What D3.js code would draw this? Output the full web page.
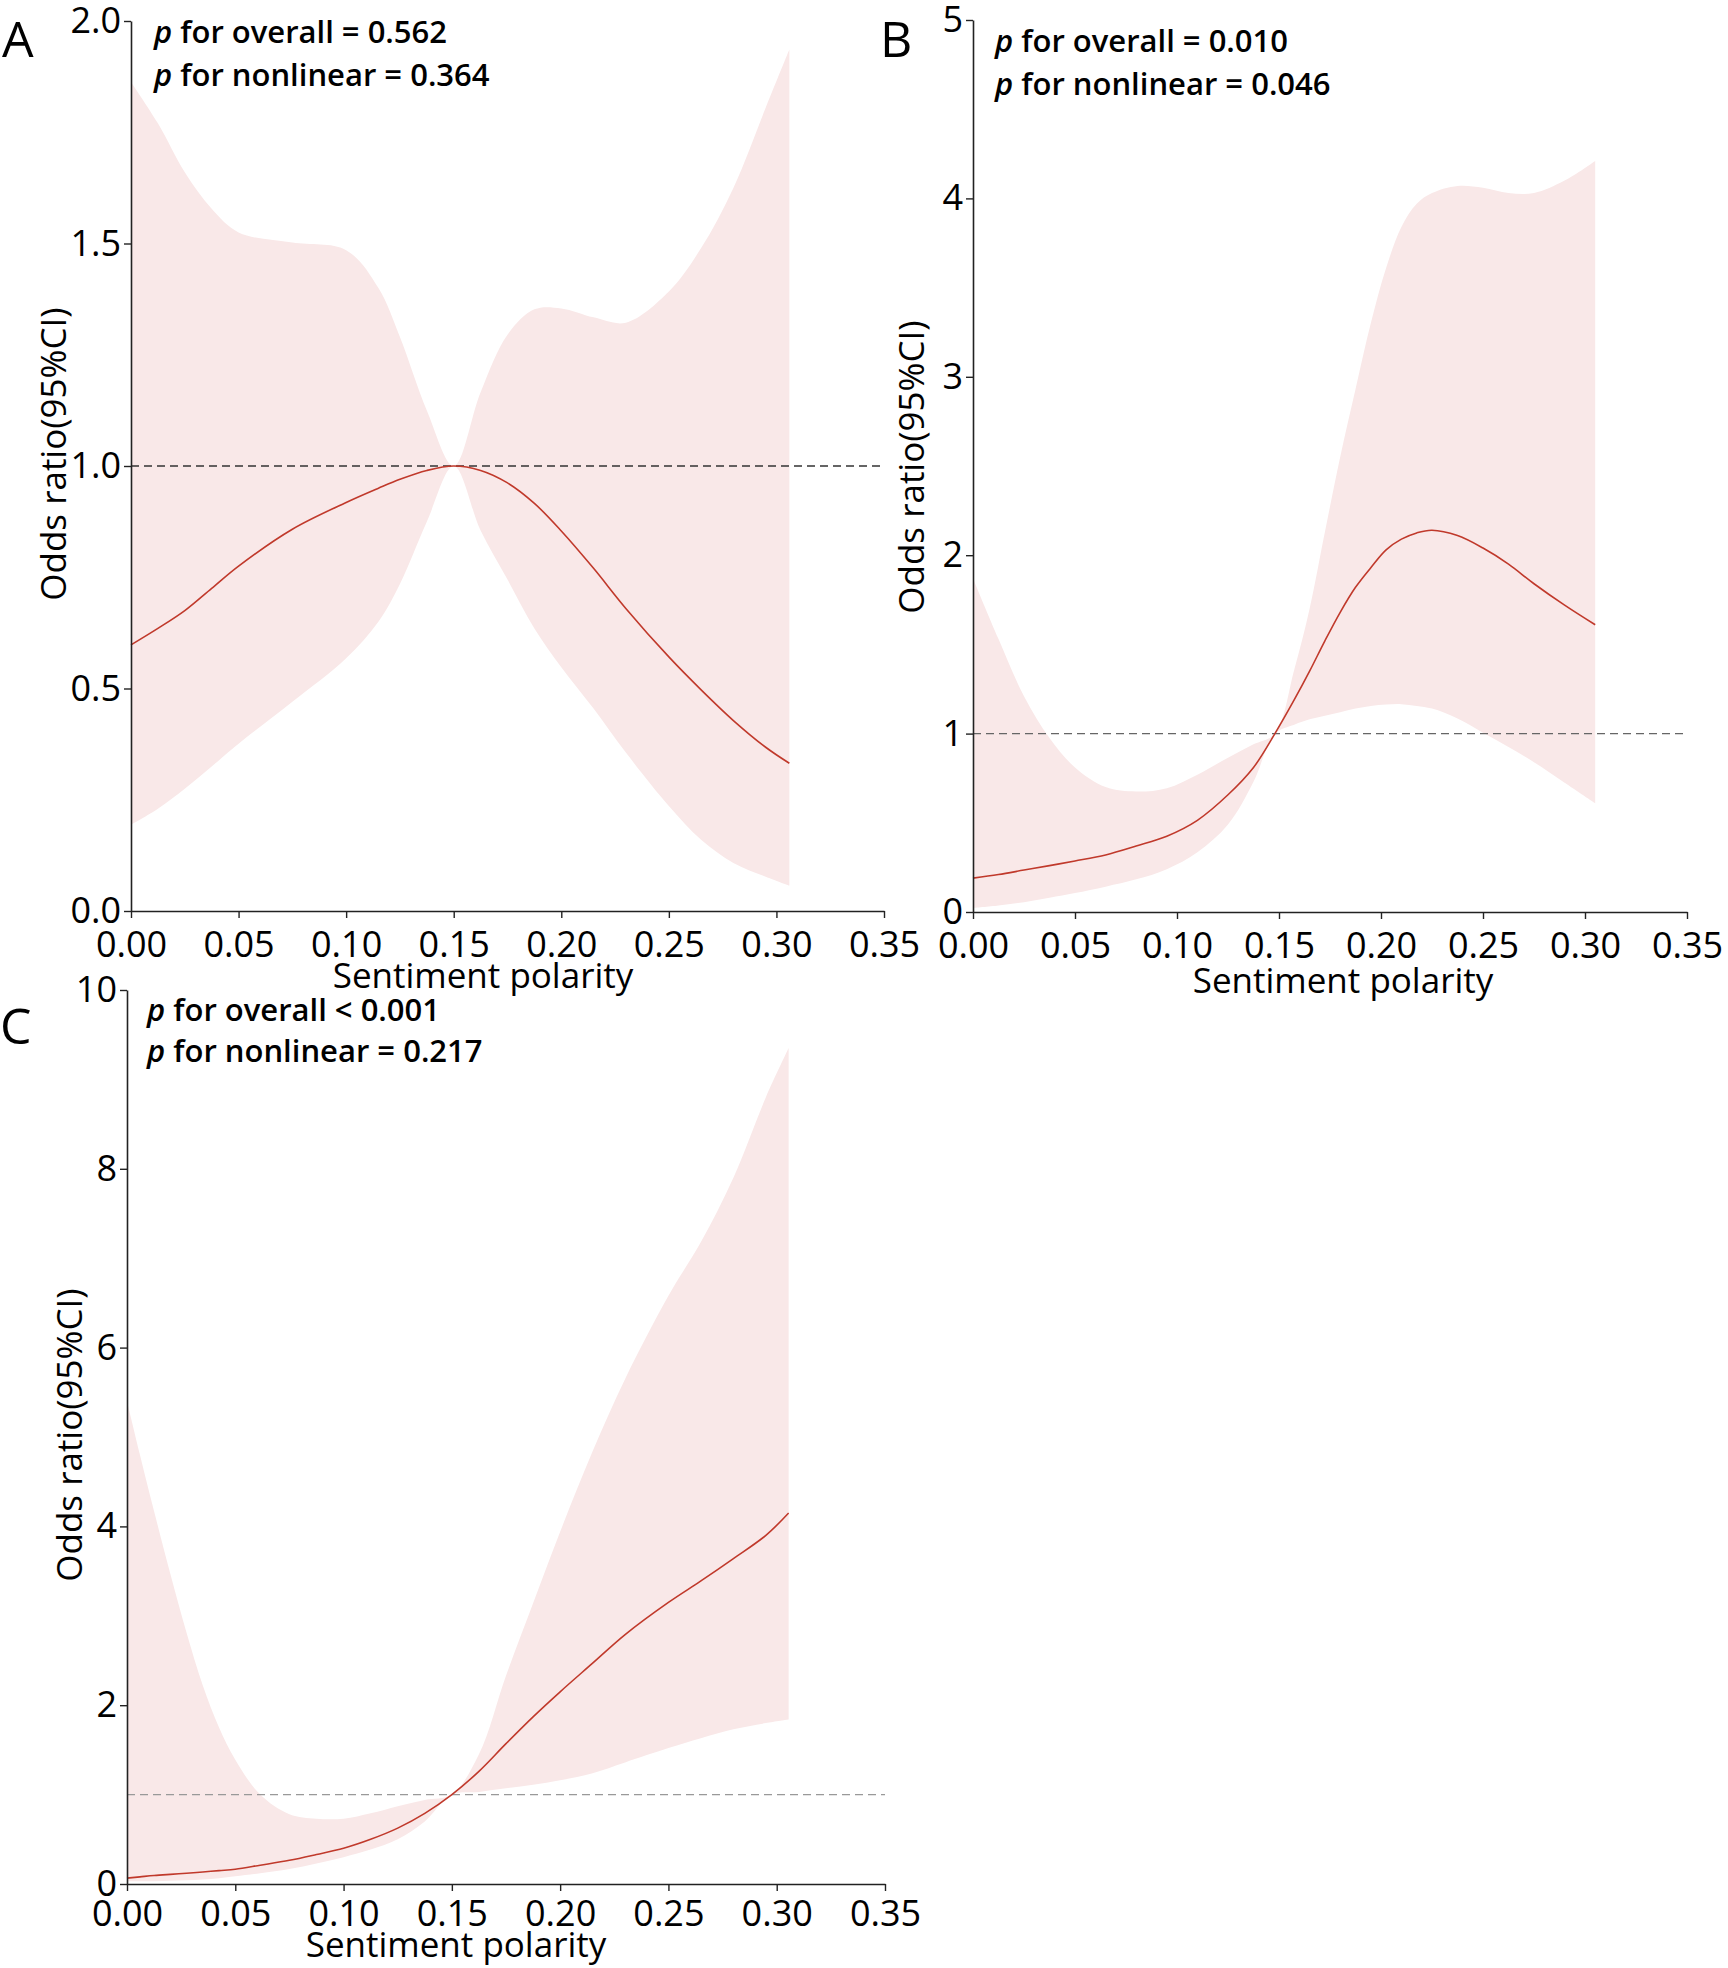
<!DOCTYPE html>
<html>
<head>
<meta charset="utf-8">
<script src="https://cdn.jsdelivr.net/npm/d3@7"></script>
<style>
	body { margin: 0; background: #fff; }
	text { font-family: "Open Sans", "Noto Sans", sans-serif; }
</style>
</head>
<body>
<div id="chart-area"></div>
<script>
// values (odds ratio + 95% CI)

// panel A
var aX   = [0, 0.0125, 0.025, 0.0375, 0.05, 0.075, 0.10, 0.115, 0.125, 0.1375, 0.15, 0.1625, 0.175, 0.1875, 0.20, 0.215, 0.23, 0.25, 0.265, 0.28, 0.295, 0.306];
var aEst = [0.598, 0.635, 0.675, 0.725, 0.775, 0.858, 0.918, 0.950, 0.970, 0.990, 1.000, 0.990, 0.962, 0.916, 0.854, 0.770, 0.680, 0.571, 0.497, 0.428, 0.368, 0.332];
var aLo  = [0.194, 0.230, 0.275, 0.325, 0.376, 0.470, 0.568, 0.650, 0.735, 0.875, 1.000, 0.855, 0.745, 0.635, 0.548, 0.455, 0.356, 0.236, 0.160, 0.108, 0.077, 0.057];
var aHi  = [1.863, 1.770, 1.660, 1.578, 1.525, 1.502, 1.485, 1.400, 1.290, 1.125, 1.000, 1.166, 1.295, 1.352, 1.354, 1.334, 1.322, 1.392, 1.490, 1.625, 1.805, 1.936];
var aYTicks = [0, 0.5, 1.0, 1.5, 2.0];
var aNotes = [" for overall = 0.562", " for nonlinear = 0.364"];

// panel B
var bX   = [0, 0.0125, 0.025, 0.0375, 0.05, 0.065, 0.08, 0.095, 0.11, 0.125, 0.1375, 0.148, 0.1575, 0.165, 0.1725, 0.18, 0.1875, 0.195, 0.2025, 0.21, 0.2175, 0.225, 0.2375, 0.25, 0.2625, 0.275, 0.29, 0.305];
var bEst = [0.19, 0.21, 0.235, 0.26, 0.286, 0.32, 0.37, 0.425, 0.514, 0.657, 0.81, 1.00, 1.19, 1.35, 1.52, 1.68, 1.82, 1.93, 2.03, 2.09, 2.125, 2.14, 2.11, 2.04, 1.95, 1.84, 1.72, 1.61];
var bLo  = [0.022, 0.036, 0.055, 0.08, 0.106, 0.142, 0.183, 0.24, 0.335, 0.49, 0.73, 1.00, 1.05, 1.08, 1.10, 1.12, 1.14, 1.155, 1.163, 1.165, 1.155, 1.14, 1.085, 1.005, 0.925, 0.84, 0.725, 0.61];
var bHi  = [1.87, 1.53, 1.21, 0.975, 0.81, 0.70, 0.675, 0.694, 0.77, 0.865, 0.94, 1.00, 1.36, 1.70, 2.13, 2.55, 2.93, 3.30, 3.61, 3.84, 3.97, 4.03, 4.07, 4.06, 4.03, 4.03, 4.10, 4.21];
var bYTicks = [0, 1, 2, 3, 4, 5];
var bNotes = [" for overall = 0.010", " for nonlinear = 0.046"];

// panel C
var cX   = [0, 0.006, 0.0125, 0.02, 0.0275, 0.035, 0.0425, 0.05, 0.0615, 0.075, 0.0875, 0.10, 0.1125, 0.125, 0.1375, 0.15, 0.1625, 0.175, 0.1875, 0.20, 0.215, 0.23, 0.25, 0.265, 0.28, 0.295, 0.3055];
var cEst = [0.066, 0.08, 0.095, 0.108, 0.12, 0.135, 0.15, 0.165, 0.21, 0.265, 0.33, 0.40, 0.50, 0.625, 0.79, 1.00, 1.26, 1.57, 1.87, 2.15, 2.47, 2.79, 3.15, 3.39, 3.64, 3.90, 4.15];
var cLo  = [0.03, 0.03, 0.032, 0.036, 0.042, 0.05, 0.065, 0.086, 0.12, 0.168, 0.23, 0.30, 0.385, 0.50, 0.70, 1.00, 1.03, 1.07, 1.11, 1.16, 1.24, 1.36, 1.52, 1.63, 1.73, 1.80, 1.84];
var cHi  = [5.40, 4.80, 4.17, 3.47, 2.81, 2.22, 1.75, 1.39, 1.00, 0.78, 0.73, 0.73, 0.79, 0.87, 0.94, 1.00, 1.45, 2.33, 3.14, 3.94, 4.84, 5.65, 6.58, 7.18, 7.90, 8.80, 9.35];
var cYTicks = [0, 2, 4, 6, 8, 10];
var cNotes = [" for overall < 0.001", " for nonlinear = 0.217"];

var xTicks = [0, 0.05, 0.10, 0.15, 0.20, 0.25, 0.30, 0.35];

var svg = d3.select("#chart-area")
	.append("svg")
		.attr("width", 1728)
		.attr("height", 1968);

svg.append("rect")
	.attr("width", 1728)
	.attr("height", 1968)
	.attr("fill", "#fff");

function drawPanel(p) {
	var x = d3.scaleLinear()
		.domain([0, 0.35])
		.range([p.left, p.right]);

	var y = d3.scaleLinear()
		.domain([0, p.yMax])
		.range([p.bottom, p.top]);

	var rows = p.xs.map(function(d, i) {
		return {x: d, est: p.est[i], lo: p.lo[i], hi: p.hi[i]};
	});

	var g = svg.append("g");

	var band = d3.area()
		.x(function(d) { return x(d.x); })
		.y0(function(d) { return y(d.lo); })
		.y1(function(d) { return y(d.hi); })
		.curve(d3.curveCatmullRom.alpha(0.5));

	var line = d3.line()
		.x(function(d) { return x(d.x); })
		.y(function(d) { return y(d.est); })
		.curve(d3.curveCatmullRom.alpha(0.5));

	g.append("path")
		.attr("fill", "#f9e8e8")
		.attr("d", band(rows));

	// reference line at OR = 1
	g.append("line")
		.attr("x1", x(0))
		.attr("x2", x(0.35))
		.attr("y1", y(1))
		.attr("y2", y(1))
		.attr("stroke", p.refColor)
		.attr("stroke-width", 1.4)
		.attr("stroke-dasharray", "8,5");

	g.append("path")
		.attr("fill", "none")
		.attr("stroke", "#c0392b")
		.attr("stroke-width", 1.6)
		.attr("d", line(rows));

	var xAxis = g.append("g")
		.attr("transform", "translate(0," + p.bottom + ")")
		.call(d3.axisBottom(x)
			.tickValues(xTicks)
			.tickFormat(d3.format(".2f"))
			.tickSize(7)
			.tickSizeOuter(0)
			.tickPadding(p.xPad));

	var yAxis = g.append("g")
		.attr("transform", "translate(" + p.left + ",0)")
		.call(d3.axisLeft(y)
			.tickValues(p.yTicks)
			.tickFormat(d3.format(p.yFormat))
			.tickSize(7)
			.tickSizeOuter(0)
			.tickPadding(3));

	[xAxis, yAxis].forEach(function(a) {
		a.select(".domain").attr("stroke", "#222").attr("stroke-width", 1.6);
		a.selectAll(".tick line").attr("stroke", "#222").attr("stroke-width", 1.4);
		a.selectAll("text")
			.attr("font-size", 36)
			.attr("fill", "#000")
			.attr("font-family", "Open Sans, Noto Sans, sans-serif");
	});

	g.append("text")
		.attr("x", p.xTitle[0])
		.attr("y", p.xTitle[1])
		.attr("font-size", 35)
		.attr("text-anchor", "middle")
		.text("Sentiment polarity");

	g.append("text")
		.attr("transform", "translate(" + p.yTitle[0] + "," + p.yTitle[1] + ") rotate(-90)")
		.attr("font-size", 35)
		.attr("text-anchor", "middle")
		.text("Odds ratio(95%CI)");

	g.append("text")
		.attr("x", p.letter[0])
		.attr("y", p.letter[1])
		.attr("font-size", 50)
		.text(p.name);

	p.notes.forEach(function(t, i) {
		var note = g.append("text")
			.attr("x", p.noteX)
			.attr("y", p.noteY[i])
			.attr("font-size", 31)
			.attr("font-weight", 600);
		note.append("tspan")
			.attr("font-style", "italic")
			.text("p");
		note.append("tspan")
			.text(t);
	});
}

drawPanel({
	name: "A", xs: aX, est: aEst, lo: aLo, hi: aHi,
	yMax: 2, yTicks: aYTicks, yFormat: ".1f",
	left: 131, right: 884, top: 21, bottom: 911,
	refColor: "#333", xPad: 13,
	xTitle: [483, 988], yTitle: [66, 454], letter: [2, 57],
	notes: aNotes, noteX: 154, noteY: [43, 86]
});

drawPanel({
	name: "B", xs: bX, est: bEst, lo: bLo, hi: bHi,
	yMax: 5, yTicks: bYTicks, yFormat: "d",
	left: 973, right: 1687, top: 20, bottom: 912,
	refColor: "#666", xPad: 13,
	xTitle: [1343, 993], yTitle: [924, 467], letter: [880, 57],
	notes: bNotes, noteX: 995, noteY: [52, 95]
});

drawPanel({
	name: "C", xs: cX, est: cEst, lo: cLo, hi: cHi,
	yMax: 10, yTicks: cYTicks, yFormat: "d",
	left: 127, right: 885, top: 990, bottom: 1884,
	refColor: "#999", xPad: 9,
	xTitle: [456, 1957], yTitle: [82, 1435], letter: [0, 1044],
	notes: cNotes, noteX: 147, noteY: [1021, 1062]
});
</script>
</body>
</html>
